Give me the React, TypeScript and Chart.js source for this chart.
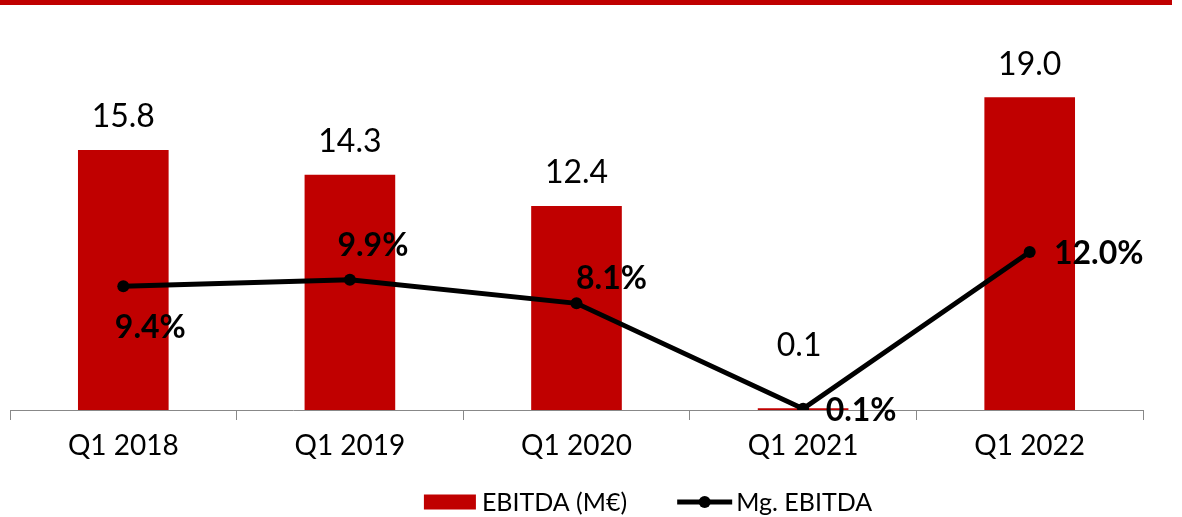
import React, { useEffect, useRef } from "react";
import { Chart, registerables } from "chart.js";

Chart.register(...registerables);

const categories = ["Q1 2018", "Q1 2019", "Q1 2020", "Q1 2021", "Q1 2022"];
const ebitda = [15.8, 14.3, 12.4, 0.1, 19.0];
const margin = [9.4, 9.9, 8.1, 0.1, 12.0];
const seriesNames = ["EBITDA (M€)", "Mg. EBITDA"];

// label placement (layout only)
const barLabelShift: [number, number][] = [[0, -33], [0, -33], [0, -33], [-4, -63], [0, -33]];
const lineLabelShift: [number, number][] = [[27, 41], [23, -34], [35, -25], [58, 2], [69, 2]];

const RED = "#C00000";
const FONT = "Lato";

const decorPlugin = {
  id: "decor",
  beforeDraw(chart: any) {
    const ctx = chart.ctx;
    ctx.save();
    ctx.fillStyle = "#fff";
    ctx.fillRect(0, 0, chart.width, chart.height);
    ctx.fillStyle = RED;
    ctx.fillRect(0, 0, 1172, 5);
    ctx.restore();
  },
  afterDatasetsDraw(chart: any) {
    const ctx = chart.ctx;
    ctx.save();
    ctx.textAlign = "center";
    ctx.textBaseline = "middle";
    ctx.fillStyle = "#000";
    const barMeta = chart.getDatasetMeta(1);
    ctx.font = `32px ${FONT}`;
    barMeta.data.forEach((el: any, i: number) => {
      const [dx, dy] = barLabelShift[i];
      ctx.fillText(ebitda[i].toFixed(1), el.x + dx, el.y + dy);
    });
    const lineMeta = chart.getDatasetMeta(0);
    ctx.font = `bold 32px ${FONT}`;
    lineMeta.data.forEach((el: any, i: number) => {
      const [dx, dy] = lineLabelShift[i];
      ctx.fillText(margin[i].toFixed(1) + "%", el.x + dx, el.y + dy);
    });
    ctx.restore();
  },
  afterDraw(chart: any) {
    // legend
    const ctx = chart.ctx;
    ctx.save();
    ctx.font = `25px ${FONT}`;
    ctx.textBaseline = "middle";
    ctx.textAlign = "left";
    const cy = 502;
    const boxW = 52, gapText = 6, itemGap = 50, lineW = 55;
    const t1 = ctx.measureText(seriesNames[0]).width;
    const t2 = ctx.measureText(seriesNames[1]).width;
    const total = boxW + gapText + t1 + itemGap + lineW + 4 + t2;
    let x = 648 - total / 2;
    ctx.fillStyle = RED;
    ctx.fillRect(x, cy - 7.5, boxW, 15);
    x += boxW + gapText;
    ctx.fillStyle = "#000";
    ctx.fillText(seriesNames[0], x, cy + 1);
    x += t1 + itemGap;
    ctx.strokeStyle = "#000";
    ctx.lineWidth = 5;
    ctx.beginPath();
    ctx.moveTo(x, cy);
    ctx.lineTo(x + lineW, cy);
    ctx.stroke();
    ctx.beginPath();
    ctx.arc(x + lineW / 2, cy, 6, 0, Math.PI * 2);
    ctx.fill();
    x += lineW + 4;
    ctx.fillText(seriesNames[1], x, cy + 1);
    ctx.restore();
  },
};

export default function App() {
  const ref = useRef<HTMLCanvasElement>(null);
  useEffect(() => {
    const chart = new Chart(ref.current!, {
      type: "bar",
      data: {
        labels: categories,
        datasets: [
          {
            type: "line",
            label: seriesNames[1],
            data: margin,
            yAxisID: "y1",
            borderColor: "#000",
            backgroundColor: "#000",
            borderWidth: 5,
            pointRadius: 6,
            pointBackgroundColor: "#000",
            pointBorderWidth: 0,
            tension: 0,
            order: 0,
          } as any,
          {
            type: "bar",
            label: seriesNames[0],
            data: ebitda,
            yAxisID: "y",
            backgroundColor: RED,
            barPercentage: 0.4,
            categoryPercentage: 1,
            order: 1,
          },
        ],
      },
      options: {
        responsive: false,
        animation: false,
        layout: { padding: { left: 10, right: 39, top: 15, bottom: 57 } },
        scales: {
          x: {
            afterFit: (s: any) => {
              s.height = 50;
            },
            grid: {
              offset: true,
              drawOnChartArea: false,
              drawTicks: true,
              tickLength: 10,
              color: "#888",
              lineWidth: 1,
            },
            border: { display: true, color: "#888", width: 1 },
            ticks: { color: "#000", font: { family: FONT, size: 28 }, padding: 9 },
          },
          y: { display: false, min: 0, max: 24 },
          y1: { display: false, min: 0, max: 30, position: "right" },
        },
        plugins: {
          tooltip: { enabled: false },
          legend: { display: false },
        },
      },
      plugins: [decorPlugin],
    });
    return () => chart.destroy();
  }, []);
  return (
    <div style={{ position: "fixed", left: 0, top: 0, width: 1182, height: 517 }}>
      <canvas ref={ref} width={1182} height={517} style={{ display: "block" }} />
    </div>
  );
}
